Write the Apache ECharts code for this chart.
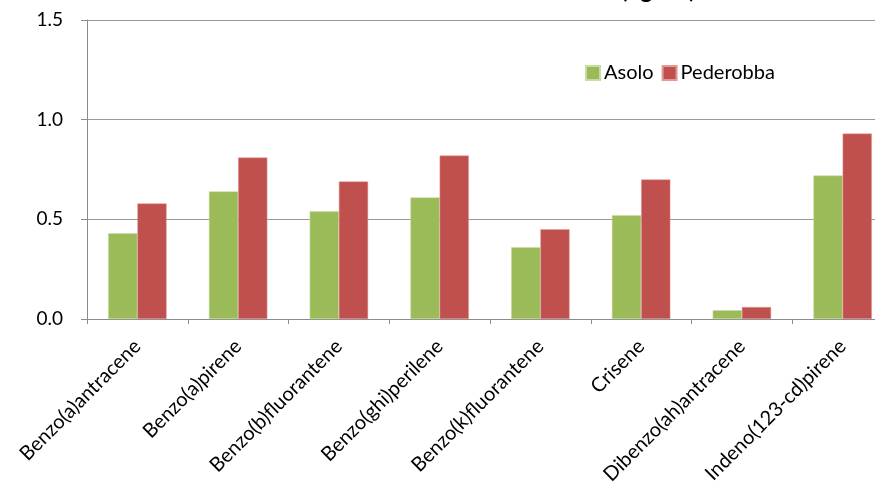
<!DOCTYPE html>
<html>
<head>
<meta charset="utf-8">
<script src="https://cdn.jsdelivr.net/npm/echarts@6/dist/echarts.min.js"></script>
<style>
html,body{margin:0;padding:0;background:#fff;overflow:hidden;width:875px;height:490px;}
#chart{width:893px;height:490px;}
</style>
</head>
<body>
<div id="chart"></div>
<script>
var categories = ["Benzo(a)antracene","Benzo(a)pirene","Benzo(b)fluorantene","Benzo(ghi)perilene","Benzo(k)fluorantene","Crisene","Dibenzo(ah)antracene","Indeno(123-cd)pirene"];
var asolo = [0.43, 0.64, 0.54, 0.61, 0.36, 0.52, 0.044, 0.72];
var pederobba = [0.58, 0.81, 0.69, 0.82, 0.45, 0.70, 0.06, 0.93];
var yTicks = [0, 0.5, 1.0, 1.5];

var FONT = 'Lato, "Open Sans", sans-serif';
var chart = echarts.init(document.getElementById('chart'));
chart.setOption({
  animation: false,
  backgroundColor: '#fff',
  title: {
    text: '(ng/m³)',
    left: 616,
    top: -26,
    textStyle: {fontFamily: FONT, fontSize: 23, fontWeight: 'bold', color: '#000'}
  },
  legend: {
    data: ['Asolo', 'Pederobba'],
    left: 580,
    top: 58,
    itemWidth: 14,
    itemHeight: 14,
    itemGap: 8,
    icon: 'rect',
    textStyle: {fontFamily: FONT, fontSize: 20, color: '#000', padding: [0,0,0,-1]}
  },
  grid: {left: 87, right: 0, top: 20, bottom: 171, containLabel: false},
  xAxis: {
    type: 'category',
    data: categories,
    axisLine: {show: true, lineStyle: {color: '#8c8c8c', width: 1}},
    axisTick: {show: true, length: 5, interval: 0, lineStyle: {color: '#8c8c8c'}},
    axisLabel: {interval: 0, rotate: 45, margin: 24, fontFamily: FONT, fontSize: 20, color: '#000'}
  },
  yAxis: {
    type: 'value',
    min: yTicks[0],
    max: yTicks[yTicks.length - 1],
    interval: 0.5,
    axisLine: {show: true, lineStyle: {color: '#8c8c8c', width: 1}},
    axisTick: {show: true, length: 6, lineStyle: {color: '#8c8c8c'}},
    splitLine: {show: true, lineStyle: {color: '#999', width: 1}},
    axisLabel: {margin: 24, fontFamily: FONT, fontSize: 19, color: '#000',
      formatter: function (v) { return v.toFixed(1); }}
  },
  series: [
    {name: 'Asolo', type: 'bar', data: asolo, barWidth: '29%', barGap: '0%',
      itemStyle: {color: '#9BBB59', borderColor: '#c9dca6', borderWidth: 0.5}},
    {name: 'Pederobba', type: 'bar', data: pederobba, barWidth: '29%', barGap: '0%',
      itemStyle: {color: '#C0504D', borderColor: '#e09a98', borderWidth: 0.5}}
  ]
});
</script>
</body>
</html>
